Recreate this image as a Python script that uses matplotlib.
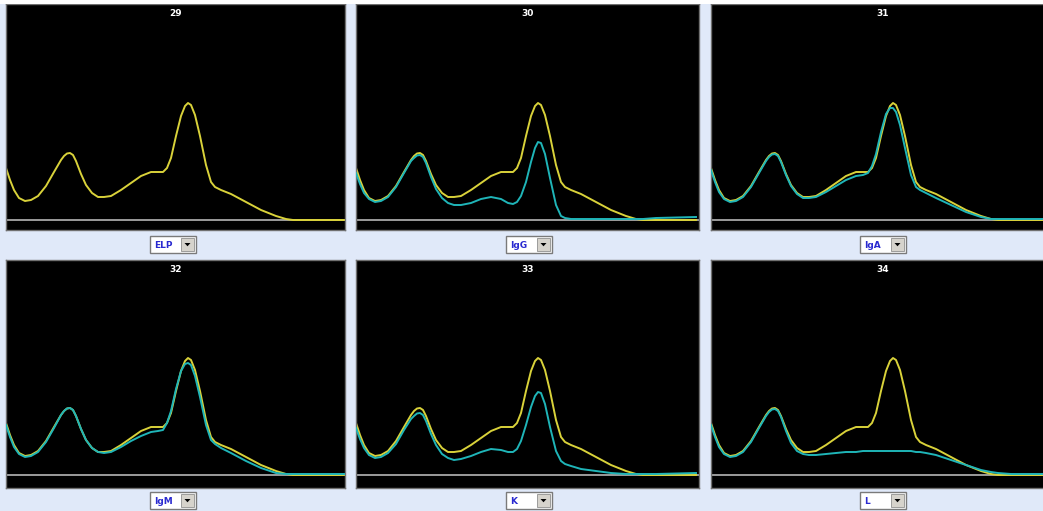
#!/usr/bin/env python3
"""
Immunofixation-style densitometry panels (29-34):
reference ELP trace (yellow) vs. each antiserum trace (cyan).
"""

import matplotlib
matplotlib.use("Agg")
import matplotlib.pyplot as plt
from matplotlib.patches import Rectangle, Polygon

# ── Data (migration position, trace height above baseline) ───────────────────
POS = [0, 4, 8, 13, 19, 25, 32, 40, 48, 55, 58, 61, 64, 67, 70, 75, 80, 86, 92,
       98, 105, 115, 125, 135, 145, 152, 157, 161, 165, 170, 175, 179, 182,
       185, 189, 194, 200, 205, 209, 215, 225, 240, 255, 270, 280, 287, 300, 340]

ELP = [52, 40, 30, 22, 19, 20, 24, 34, 48, 60, 64, 66.5, 67, 65, 59, 46, 35, 27, 23,
       23, 24, 30, 37, 44, 48, 48, 48, 52, 62, 84, 104, 114, 117,
       115, 105, 84, 55, 38, 33, 30, 26, 18, 10, 4, 1, 0, 0, 0]

IGG = [47, 36, 27, 21, 18, 19, 23, 33, 47, 59, 62, 64.5, 65, 63, 57, 43, 31, 22, 17,
       15, 15, 17, 21, 23, 21, 17, 16, 18, 24, 38, 58, 72, 78,
       77, 66, 42, 15, 4, 2, 1, 1, 1, 1, 1, 1, 1, 2, 3]

IGA = [50, 38, 28, 21, 18, 19, 23, 33, 47, 59, 63, 65.5, 66, 64, 58, 45, 34, 26, 22,
       22, 23, 28, 34, 40, 44, 45, 47, 54, 66, 88, 106, 112, 112,
       108, 95, 72, 45, 33, 30, 27, 22, 15, 8, 3, 1, 1, 1, 1]

IGM = [50, 38, 28, 21, 18, 19, 23, 33, 47, 60, 64, 66.5, 67, 65, 59, 46, 35, 27, 23,
       22, 23, 28, 34, 39, 43, 44, 45, 52, 64, 86, 104, 111, 112,
       110, 99, 78, 50, 35, 31, 27, 22, 14, 7, 2, 1, 1, 1, 1]

KAPPA = [47, 36, 27, 20, 17, 18, 22, 31, 45, 56, 59, 61.5, 62, 60, 54, 41, 30, 21, 17,
         15, 16, 19, 23, 26, 25, 23, 23, 26, 34, 50, 68, 79, 83,
         82, 71, 48, 24, 14, 11, 9, 6, 4, 2, 1, 1, 1, 1, 2]

LAMBDA = [50, 38, 28, 21, 18, 19, 23, 33, 47, 59, 63, 65.5, 66, 64, 58, 44, 32, 24, 21,
          20, 20, 21, 22, 23, 23, 24, 24, 24, 24, 24, 24, 24, 24,
          24, 24, 24, 24, 23, 23, 22, 20, 15, 10, 5, 3, 2, 1, 1]

PANEL_IDS = ["29", "30", "31", "32", "33", "34"]
SELECTORS = ["ELP", "IgG", "IgA", "IgM", "K", "L"]
OVERLAYS  = [None, IGG, IGA, IGM, KAPPA, LAMBDA]

# ── Layout (pixels, measured from top-left) ──────────────────────────────────
W, H = 1043, 511
BG      = "#e0e9f9"
YELLOW  = "#d9d23a"
CYAN    = "#1fb5b8"
COLS    = [(6, 345), (356, 699), (711, 1055)]
ROWS    = [(4, 230, 10), (260, 488, 13)]   # top, bottom, baseline offset
DROP_X  = [173, 529, 883]
DROP_Y  = [236, 492]

fig = plt.figure(figsize=(W / 100, H / 100), dpi=100, facecolor=BG)


def fig_rect(x0, y0, x1, y1):
    return [x0 / W, 1 - y1 / H, (x1 - x0) / W, (y1 - y0) / H]


# thin white strip at the very top (page above the screenshot)
fig.patches.append(Rectangle((0, 1 - 4 / H), 1, 4 / H, transform=fig.transFigure,
                             facecolor="white", edgecolor="none", zorder=0))

for i, (pid, sel, over) in enumerate(zip(PANEL_IDS, SELECTORS, OVERLAYS)):
    r, c = divmod(i, 3)
    x0, x1 = COLS[c]
    top, bot, base = ROWS[r]
    ax = fig.add_axes(fig_rect(x0, top, x1, bot))
    ax.set_facecolor("black")
    ax.set_xlim(0, x1 - x0)
    ax.set_ylim(-base, (bot - top) - base)
    ax.axhline(0, color="#a8a8a8", lw=1.3, zorder=1)
    ax.plot(POS, ELP, color=YELLOW, lw=1.4, zorder=2, solid_joinstyle="round")
    if over is not None:
        ax.plot(POS, over, color=CYAN, lw=1.4, zorder=3, solid_joinstyle="round")
    ax.text(0.5 * (x1 - x0), (bot - top) - base - 9,
            pid, color="white", fontsize=6.5, fontweight="bold",
            ha="center", va="center")
    ax.set_xticks([])
    ax.set_yticks([])
    for s in ax.spines.values():
        s.set_color("#707070")
        s.set_linewidth(1)

    # dropdown selector under the panel
    cx = DROP_X[c]
    bx0, bx1 = cx - 23, cx + 23
    by0 = DROP_Y[r]
    by1 = by0 + 17
    fig.patches.append(Rectangle((bx0 / W, 1 - by1 / H), (bx1 - bx0) / W, (by1 - by0) / H,
                                 transform=fig.transFigure, facecolor="white",
                                 edgecolor="#7a7a7a", lw=1.0, zorder=2))
    ax0, ay0 = bx1 - 15, by0 + 2
    fig.patches.append(Rectangle((ax0 / W, 1 - (ay0 + 13) / H), 13 / W, 13 / H,
                                 transform=fig.transFigure, facecolor="#d6d3cc",
                                 edgecolor="#909090", lw=0.6, zorder=3))
    tx, ty = ax0 + 6.5, ay0 + 6.5
    fig.patches.append(Polygon([((tx - 3) / W, 1 - (ty - 1.5) / H),
                                ((tx + 3) / W, 1 - (ty - 1.5) / H),
                                (tx / W, 1 - (ty + 1.8) / H)],
                               closed=True, transform=fig.transFigure,
                               facecolor="black", edgecolor="none", zorder=4))
    fig.text((bx0 + 4) / W, 1 - (by0 + 9) / H, sel, color="#2a2ad0",
             fontsize=6.5, fontweight="bold", ha="left", va="center", zorder=5)

fig.savefig("out.png", dpi=100, facecolor=BG)
